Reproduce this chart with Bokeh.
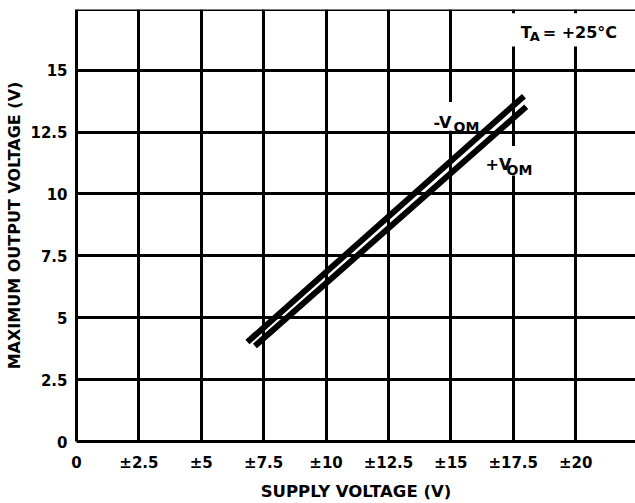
from bokeh.plotting import figure
from bokeh.models import Label, BoxAnnotation, Span
from bokeh.embed import file_html
from bokeh.resources import INLINE

# ---- data ----
x_ticks = [0, 2.5, 5, 7.5, 10, 12.5, 15, 17.5, 20]
x_tick_labels = ["0", "±2.5", "±5", "±7.5", "±10", "±12.5", "±15", "±17.5", "±20"]
y_ticks = [0, 2.5, 5, 7.5, 10, 12.5, 15]
y_tick_labels = ["0", "2.5", "5", "7.5", "10", "12.5", "15"]

neg_vom_x = [6.85, 17.93]     # -V_OM (upper curve)
neg_vom_y = [4.02, 13.95]
pos_vom_x = [7.15, 18.02]     # +V_OM (lower curve)
pos_vom_y = [3.86, 13.52]

x_end = 22.4
y_end = 17.45

FONT = "DejaVu Sans"

p = figure(width=635, height=503, x_range=(0, x_end), y_range=(0, y_end),
           output_backend="svg", toolbar_location=None,
           min_border_left=76, min_border_right=0, min_border_top=9, min_border_bottom=60)
p.outline_line_color = None
p.background_fill_color = "white"
p.border_fill_color = "white"

# axes
for ax in (p.xaxis[0], p.yaxis[0]):
    ax.major_tick_in = 0
    ax.major_tick_out = 0
    ax.minor_tick_line_color = None
    ax.major_tick_line_color = None
    ax.axis_line_width = 3
    ax.axis_line_color = "black"
    ax.major_label_text_font = FONT
    ax.major_label_text_font_style = "bold"
    ax.major_label_text_font_size = "15px"
    ax.major_label_text_color = "black"
    ax.axis_label_text_font = FONT
    ax.axis_label_text_font_style = "bold"
    ax.axis_label_text_color = "black"

p.xaxis.axis_label_text_font_size = "16.5px"
p.yaxis.axis_label_text_font_size = "16px"
p.xaxis.ticker = x_ticks
p.yaxis.ticker = y_ticks
p.xaxis.major_label_overrides = dict(zip(x_ticks, x_tick_labels))
p.yaxis.major_label_overrides = dict(zip(y_ticks, y_tick_labels))
p.xaxis.axis_label = "SUPPLY VOLTAGE (V)"
p.yaxis.axis_label = "MAXIMUM OUTPUT VOLTAGE (V)"
p.xaxis.major_label_standoff = 12
p.yaxis.major_label_standoff = 9
p.xaxis.axis_label_standoff = 7
p.yaxis.axis_label_standoff = 3

for g in (p.xgrid[0], p.ygrid[0]):
    g.grid_line_color = "black"
    g.grid_line_width = 3
    g.grid_line_alpha = 1

# top frame line
p.add_layout(Span(location=y_end, dimension="width", line_color="black", line_width=3))

# white masks behind the labels (interrupt the grid)
for l, r, b, t in [(16.0, x_end, 15.96, 17.3),
                   (14.2, 16.25, 12.55, 13.71),
                   (16.2, 18.44, 10.74, 11.94)]:
    p.add_layout(BoxAnnotation(left=l, right=r, bottom=b, top=t, fill_color="white",
                               fill_alpha=1, line_color=None, level="underlay"))

# curves
p.line(neg_vom_x, neg_vom_y, line_color="black", line_width=6, line_cap="butt")
p.line(pos_vom_x, pos_vom_y, line_color="black", line_width=6, line_cap="butt")

def lab(x, y, text, size="16px", dx=0, dy=0):
    p.add_layout(Label(x=x, y=y, text=text, x_offset=dx, y_offset=dy,
                       text_font=FONT, text_font_style="bold", text_font_size=size,
                       text_color="black", text_baseline="alphabetic", text_align="left"))

lab(14.31, 12.87, "-V")
lab(14.31, 12.87, "OM", size="14px", dx=20, dy=-4)
lab(16.39, 11.18, "+V")
lab(16.39, 11.18, "OM", size="14px", dx=21, dy=-5)
lab(17.8, 16.53, "T")
lab(17.8, 16.53, "A", size="13px", dx=9, dy=-4)
lab(17.8, 16.53, "= +25°C", dx=22)

open("out.html", "w").write(file_html(p, INLINE))
